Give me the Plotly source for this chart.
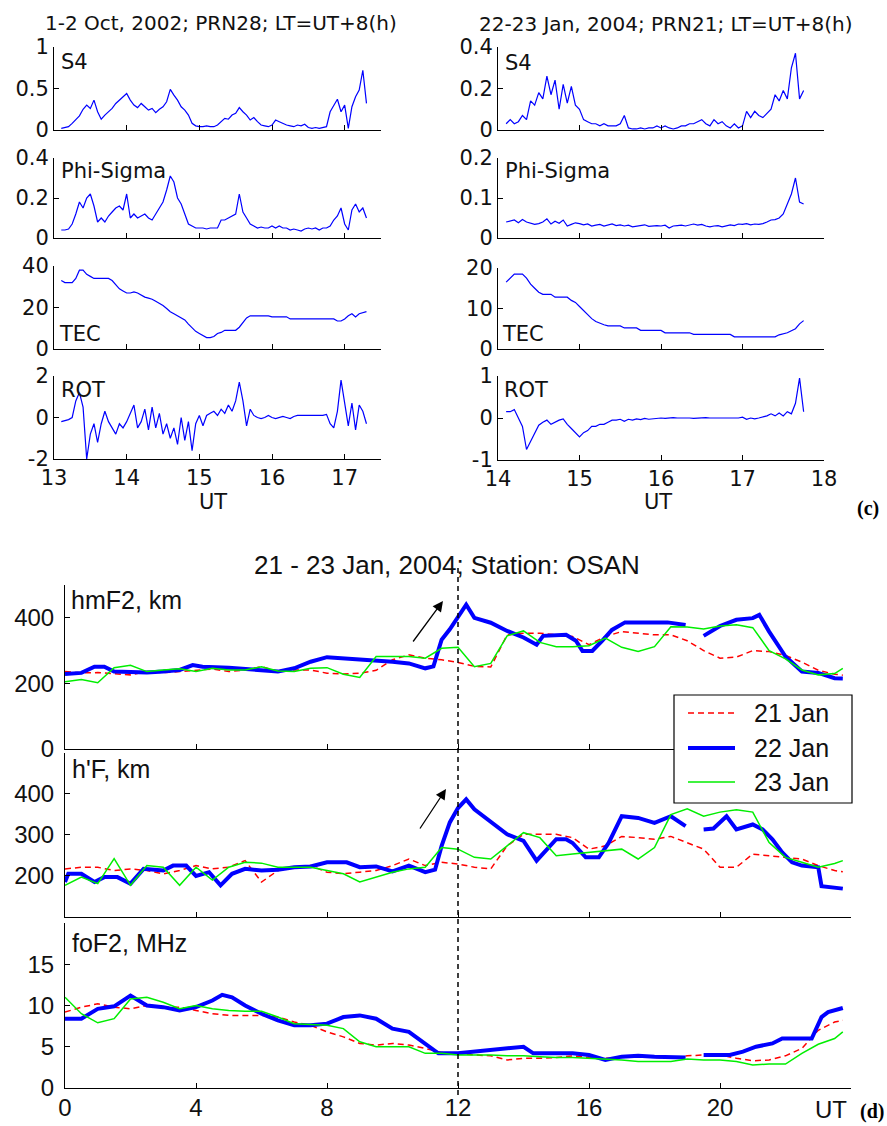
import plotly.graph_objects as go

W, H = 887, 1126

# ---------------- (c) left: 1-2 Oct 2002, PRN28 (UT hours, 0.05 h sampling) ----------------
UT_L_START = 13.10
S4_L = [
    0.02, 0.03, 0.04, 0.08, 0.12, 0.17, 0.25, 0.30, 0.26, 0.36, 0.22, 0.13, 0.18, 0.22, 0.26, 0.32, 0.36, 0.40,
    0.44, 0.36, 0.30, 0.27, 0.32, 0.28, 0.24, 0.26, 0.21, 0.25, 0.28, 0.34, 0.49, 0.42, 0.36, 0.28, 0.24, 0.18, 0.08, 0.05,
    0.04, 0.04, 0.05, 0.04, 0.04, 0.06, 0.10, 0.14, 0.13, 0.18, 0.20, 0.27, 0.22, 0.18, 0.12, 0.15, 0.10, 0.06, 0.05, 0.04,
    0.06, 0.12, 0.10, 0.08, 0.06, 0.05, 0.04, 0.06, 0.05, 0.07, 0.03, 0.02, 0.03, 0.02, 0.03, 0.04, 0.22, 0.30, 0.37, 0.22,
    0.30, 0.02, 0.28, 0.40, 0.48, 0.72, 0.32]
PHI_L = [
    0.04, 0.04, 0.045, 0.07, 0.12, 0.18, 0.15, 0.20, 0.22, 0.16, 0.08, 0.10, 0.08, 0.11, 0.13, 0.15, 0.16, 0.14,
    0.22, 0.10, 0.12, 0.10, 0.11, 0.12, 0.10, 0.09, 0.12, 0.15, 0.18, 0.24, 0.31, 0.28, 0.20, 0.17, 0.12, 0.07, 0.06, 0.05,
    0.05, 0.05, 0.045, 0.05, 0.05, 0.05, 0.09, 0.09, 0.10, 0.11, 0.12, 0.22, 0.13, 0.10, 0.07, 0.06, 0.05, 0.055, 0.05, 0.05,
    0.06, 0.05, 0.06, 0.05, 0.05, 0.04, 0.045, 0.04, 0.035, 0.045, 0.05, 0.045, 0.05, 0.04, 0.05, 0.05, 0.06, 0.09, 0.11, 0.15,
    0.07, 0.04, 0.14, 0.17, 0.13, 0.15, 0.10]
TEC_L = [
    33, 32, 32, 32, 34, 38, 38, 36, 35, 34, 34, 34, 34, 34, 33, 31, 29, 28,
    27, 27, 27.5, 27, 26, 25, 24.5, 24, 23, 22, 21, 19.5, 18, 17, 16, 15, 14, 12, 10, 8.5,
    7.5, 6.5, 5.5, 5.5, 6, 7.5, 8, 9, 9, 9, 9, 10.5, 13, 15, 16, 16, 16, 16, 16, 16,
    15.5, 15.5, 15.5, 15.5, 15.5, 14.5, 14.5, 14.5, 14.5, 14.5, 14.5, 14.5, 14.5, 14.5, 14.5, 14.5, 14.5, 14.5, 13.5, 13.5,
    14.5, 16, 17, 15.5, 17, 17.5, 18]
ROT_L = [
    -0.2, -0.15, -0.1, 0.0, 0.8, 1.2, 0.5, -2.0, -0.8, -0.3, -1.2, -0.3, 0.3, -0.2, -0.5, -0.8, -0.3, -0.5,
    -0.2, 0.2, 0.6, -0.5, -0.2, 0.4, -0.6, 0.5, -0.5, 0.2, -0.8, -0.3, -1.0, -0.5, -1.3, 0.0, -1.1, -0.2, -1.6, -0.3,
    0.1, -0.4, 0.1, 0.2, 0.3, 0.1, 0.4, 0.2, 0.6, 0.3, 0.8, 1.7, 0.8, -0.4, 0.4, 0.1, 0.0, -0.05, 0.0, 0.1,
    0.0, -0.05, 0.0, 0.05, 0.0, -0.05, 0.05, 0.1, 0.1, 0.1, 0.1, 0.1, 0.1, 0.1, 0.1, 0.15, -0.3, -0.5, 0.3, 1.8,
    0.8, -0.4, 0.7, -0.6, 0.6, 0.3, -0.3]

# ---------------- (c) right: 22-23 Jan 2004, PRN21 ----------------
UT_R_START = 14.10
S4_R = [
    0.03, 0.05, 0.03, 0.04, 0.07, 0.05, 0.14, 0.12, 0.18, 0.15, 0.26, 0.17, 0.24, 0.10, 0.22, 0.13, 0.21, 0.12,
    0.10, 0.05, 0.04, 0.03, 0.03, 0.02, 0.03, 0.02, 0.02, 0.02, 0.03, 0.07, 0.01, 0.005, 0.005, 0.01, 0.005, 0.01, 0.01, 0.02,
    0.01, 0.02, 0.01, 0.005, 0.01, 0.02, 0.02, 0.03, 0.03, 0.04, 0.05, 0.03, 0.02, 0.05, 0.03, 0.04, 0.02, 0.01, 0.03, 0.01,
    0.02, 0.09, 0.06, 0.09, 0.07, 0.06, 0.08, 0.10, 0.17, 0.14, 0.19, 0.15, 0.30, 0.37, 0.15, 0.19]
PHI_R = [
    0.040, 0.042, 0.045, 0.038, 0.046, 0.040, 0.037, 0.034, 0.036, 0.040, 0.048, 0.035, 0.042, 0.037, 0.045, 0.030, 0.034, 0.038,
    0.036, 0.033, 0.035, 0.030, 0.032, 0.034, 0.030, 0.033, 0.035, 0.031, 0.033, 0.030, 0.032, 0.028, 0.030, 0.031, 0.033, 0.029, 0.030, 0.031,
    0.030, 0.032, 0.025, 0.030, 0.031, 0.032, 0.030, 0.033, 0.035, 0.032, 0.034, 0.030, 0.028, 0.030, 0.031, 0.028, 0.030, 0.033, 0.031, 0.035,
    0.034, 0.036, 0.033, 0.035, 0.034, 0.036, 0.040, 0.045, 0.046, 0.050, 0.060, 0.085, 0.110, 0.150, 0.090, 0.085]
TEC_R = [
    16.5, 17.5, 18.5, 18.5, 18.5, 17.5, 16, 15, 14, 13.5, 13.5, 13.5, 12.8, 12.8, 12.8, 12.8, 12, 11.5,
    10.5, 9.5, 8.5, 7.5, 6.8, 6.3, 6.0, 5.7, 5.7, 5.7, 5.7, 5.2, 5.2, 5.2, 5.2, 4.6, 4.6, 4.6, 4.6, 4.6,
    4.6, 4.0, 4.0, 4.0, 4.0, 4.0, 4.0, 4.0, 3.6, 3.6, 3.6, 3.6, 3.6, 3.6, 3.6, 3.6, 3.6, 3.6, 3.0, 3.0,
    3.0, 3.0, 3.0, 3.0, 3.0, 3.0, 3.0, 3.0, 3.0, 3.5, 3.8, 4.0, 4.5, 5.0, 6.2, 7.0]
ROT_R = [
    0.15, 0.15, 0.2, 0.0, -0.2, -0.75, -0.55, -0.35, -0.17, -0.1, -0.05, -0.15, -0.1, -0.05, -0.02, -0.15, -0.25, -0.35,
    -0.45, -0.35, -0.3, -0.2, -0.2, -0.15, -0.15, -0.1, -0.05, -0.05, -0.03, -0.08, -0.03, -0.05, -0.02, -0.04, -0.01, -0.03, -0.02, -0.01,
    0, -0.01, 0, 0.01, 0, 0, 0.01, 0, -0.01, 0, 0, 0.01, 0, 0, 0, 0, 0, -0.01, 0, 0,
    0.02, -0.03, 0, -0.02, 0, 0.03, 0.05, 0.1, 0.05, 0.12, 0.05, 0.15, 0.1, 0.35, 0.95, 0.15]

# ---------------- (d) OSAN ionosonde, 21-23 Jan 2004 ----------------
HOURS = [i * 0.5 for i in range(48)] + [23.75]
HMF2_21 = [236, 232, 233, 229, 226, 236, 233, 236, 240, 244, 236, 241, 251, 236, 241, 241, 231, 229, 231, 240, 272, 287, 277, 272,
           264, 252, 250, 348, 353, 353, 348, 343, 318, 343, 358, 353, 348, 348, 330, 300, 277, 280, 300, 297, 285, 265, 240, 228, 225]
HMF2_23 = [205, 212, 202, 248, 255, 236, 241, 245, 236, 246, 241, 241, 251, 238, 236, 246, 248, 228, 218, 282, 282, 282, 277, 307,
           310, 251, 261, 345, 360, 325, 312, 312, 315, 338, 310, 297, 312, 373, 372, 366, 375, 379, 370, 300, 275, 241, 226, 230, 246]
HF_21 = [217, 221, 221, 213, 217, 213, 205, 213, 225, 217, 221, 237, 185, 213, 221, 225, 209, 205, 209, 213, 225, 241, 225, 233,
         229, 221, 217, 273, 301, 301, 301, 293, 265, 273, 296, 293, 289, 296, 281, 265, 221, 221, 253, 249, 245, 241, 225, 213, 210]
HF_23 = [177, 197, 181, 242, 177, 225, 221, 177, 221, 190, 221, 233, 231, 221, 221, 221, 213, 205, 185, 197, 209, 217, 221, 269,
         265, 245, 241, 273, 305, 293, 249, 253, 257, 261, 265, 241, 269, 349, 363, 345, 355, 361, 355, 281, 245, 233, 221, 230, 237]
FOF2_21 = [9.2, 9.8, 10.2, 9.8, 9.6, 10.0, 9.8, 9.8, 9.4, 9.0, 8.8, 8.8, 8.8, 8.6, 8.0, 7.6, 6.8, 6.2, 5.4, 5.2, 5.4, 5.2, 4.8, 4.3,
           4.2, 4.0, 3.9, 3.4, 3.6, 3.6, 3.7, 3.9, 3.7, 3.6, 3.7, 3.9, 3.7, 3.6, 3.9, 4.0, 4.0, 3.6, 3.3, 3.4, 3.9, 4.8, 7.0, 8.0, 8.2]
FOF2_23 = [11.0, 9.0, 7.9, 8.4, 10.8, 11.0, 10.4, 9.6, 10.0, 9.6, 9.4, 9.3, 9.3, 8.6, 7.8, 7.7, 7.6, 7.2, 5.6, 5.0, 5.0, 5.0, 4.2, 4.2,
           4.0, 4.0, 4.0, 3.9, 3.9, 3.8, 3.7, 3.7, 3.6, 3.5, 3.4, 3.2, 3.2, 3.2, 3.5, 3.4, 3.4, 3.2, 2.8, 2.9, 2.9, 4.2, 5.3, 6.0, 6.8]

HMF2_22_T = [0, 0.5, 0.9, 1.2, 1.5, 2.5, 3, 3.5, 3.9, 4.2, 5, 5.5, 6, 6.5, 7, 7.5, 8, 8.5, 9, 9.5, 10, 10.5, 11, 11.25, 11.5,
             11.75, 12, 12.25, 12.5, 13, 13.5, 14, 14.4, 14.6, 15.3, 15.6, 15.8, 16.1, 16.4, 16.7, 17.1, 18.4, 18.95, 19.2, 19.5,
             20, 20.5, 21, 21.2, 21.5, 22, 22.5, 23, 23.5, 23.75]
HMF2_22 = [229, 232, 251, 251, 236, 233, 236, 241, 256, 251, 248, 243, 241, 236, 246, 266, 280, 277, 274, 270, 266, 261, 246, 252, 333,
           365, 400, 440, 400, 385, 360, 340, 318, 345, 348, 330, 299, 299, 330, 363, 386, 386, 378, None, 345,
           375, 394, 399, 409, 358, 282, 236, 232, 216, 215]
HF_22_T = [0, 0.1, 0.5, 0.9, 1.2, 1.6, 2.0, 2.4, 3.0, 3.3, 3.7, 4.0, 4.4, 4.75, 5.1, 5.5, 6, 6.5, 7, 7.5, 8, 8.6, 9, 9.5, 10,
           10.5, 11, 11.3, 11.5, 11.75, 12, 12.25, 12.5, 13, 13.5, 14, 14.4, 15, 15.3, 15.5, 15.9, 16.3, 16.6, 17, 17.5, 18,
           18.5, 18.95, 19.2, 19.5, 19.8, 20.2, 20.5, 21, 21.3, 21.6, 21.9, 22.2, 22.5, 23.0, 23.1, 23.75]
HF_22 = [185, 205, 205, 185, 197, 197, 181, 217, 213, 225, 225, 200, 209, 177, 205, 217, 213, 215, 221, 223, 233, 233, 221, 223, 211,
         225, 209, 215, 273, 330, 365, 386, 362, 333, 301, 285, 237, 289, 289, 280, 245, 245, 280, 345, 341, 329,
         345, 321, None, 313, 315, 345, 313, 325, 313, 289, 257, 233, 225, 221, 175, 169]
FOF2_22_T = [0, 0.5, 1, 1.5, 2, 2.5, 3, 3.5, 4, 4.5, 4.8, 5.1, 5.5, 6, 6.5, 7, 7.5, 8, 8.5, 9, 9.5, 10, 10.5, 11, 11.4,
             12, 12.5, 13, 13.5, 14, 14.3, 15, 15.5, 16, 16.5, 17, 17.5, 18, 18.5, 18.95, 19.2, 19.5, 20.3, 20.7, 21.1,
             21.6, 21.9, 22.8, 23.1, 23.3, 23.75]
FOF2_22 = [8.4, 8.4, 9.6, 9.9, 11.2, 10.0, 9.8, 9.4, 9.8, 10.6, 11.3, 11.0, 10.0, 9.0, 8.2, 7.6, 7.6, 7.8, 8.6, 8.8, 8.4, 7.2, 6.8, 5.4, 4.2,
           4.2, 4.4, 4.6, 4.8, 5.0, 4.2, 4.2, 4.2, 4.0, 3.4, 3.8, 3.9, 3.8, 3.7, 3.7, None, 4.0, 4.0, 4.4, 5.0,
           5.4, 6.0, 6.0, 8.6, 9.2, 9.7]

DAY_NAMES = ["21 Jan", "22 Jan", "23 Jan"]


def grid(start, n, step=0.05):
    return [round(start + i * step, 3) for i in range(n)]


FONT_C = "DejaVu Sans"
FONT_D = "Liberation Sans"
BLUE, RED, GREEN = "#0000ff", "#ff0000", "#00ee00"
DAY_STYLE = [dict(color=RED, width=1.5, dash="6px,4px"),
             dict(color=BLUE, width=4),
             dict(color=GREEN, width=1.5)]


def xd(p0, p1):
    return [p0 / W, p1 / W]


def yd(top, bot):
    return [1 - bot / H, 1 - top / H]


fig = go.Figure()
layout = dict(template="none", width=W, height=H,
              margin=dict(l=0, r=0, t=0, b=0, pad=0, autoexpand=False), autosize=False,
              paper_bgcolor="white", plot_bgcolor="white", showlegend=False)


def axis_style(**kw):
    d = dict(showline=True, linecolor="black", linewidth=1, ticks="inside", ticklen=5,
             tickcolor="black", tickwidth=1, showgrid=False, zeroline=False, fixedrange=True,
             automargin=False)
    d.update(kw)
    return d


top_rows = [(47, 130), (158, 238), (266, 349), (376, 459)]
top_rows_r = [(47, 130), (158, 238), (268, 349), (376, 460)]
tick_font_c = dict(family=FONT_C, size=21, color="#111")

left_sets = [
    (S4_L, [0, 1], [0, 0.5, 1], ["0", "0.5", "1"], "S4"),
    (PHI_L, [0, 0.4], [0, 0.2, 0.4], ["0", "0.2", "0.4"], "Phi-Sigma"),
    (TEC_L, [0, 40], [0, 20, 40], ["0", "20", "40"], "TEC"),
    (ROT_L, [-2, 2], [-2, 0, 2], ["-2", "0", "2"], "ROT"),
]
right_sets = [
    (S4_R, [0, 0.4], [0, 0.2, 0.4], ["0", "0.2", "0.4"], "S4"),
    (PHI_R, [0, 0.2], [0, 0.1, 0.2], ["0", "0.1", "0.2"], "Phi-Sigma"),
    (TEC_R, [0, 20], [0, 10, 20], ["0", "10", "20"], "TEC"),
    (ROT_R, [-1, 1], [-1, 0, 1], ["-1", "0", "1"], "ROT"),
]

annotations = []
shapes = []
ax_id = 0
for side, sets, rows, start, xdom, xr, xt in [
        ("L", left_sets, top_rows, UT_L_START, xd(54, 381), [13, 17.5], [13, 14, 15, 16, 17]),
        ("R", right_sets, top_rows_r, UT_R_START, xd(498, 824), [14, 18], [14, 15, 16, 17, 18])]:
    for i, (vals, yr, yt, ytt, lab) in enumerate(sets):
        ax_id += 1
        sfx = "" if ax_id == 1 else str(ax_id)
        last = (i == 3)
        layout["xaxis" + sfx] = axis_style(domain=xdom, range=xr, tickvals=xt,
                                           ticktext=[str(v) for v in xt], showticklabels=last,
                                           anchor="y" + sfx, tickfont=tick_font_c, ticklabelstandoff=0)
        layout["yaxis" + sfx] = axis_style(domain=yd(*rows[i]), range=yr, tickvals=yt, ticktext=ytt,
                                           anchor="x" + sfx, tickfont=tick_font_c)
        fig.add_trace(go.Scatter(x=grid(start, len(vals)), y=vals, mode="lines",
                                 line=dict(color=BLUE, width=1.2), xaxis="x" + sfx, yaxis="y" + sfx,
                                 showlegend=False, hoverinfo="skip"))

# panel labels for (c)
lab_pos = {"L": [(59, 62), (59, 171), (57, 334), (59, 390)],
           "R": [(503, 63), (503, 171), (500, 334), (502, 390)]}
for side, sets in [("L", left_sets), ("R", right_sets)]:
    for (vals, yr, yt, ytt, lab), (px, py) in zip(sets, lab_pos[side]):
        annotations.append(dict(text=lab, x=px / W, y=1 - py / H, xref="paper", yref="paper",
                                xanchor="left", yanchor="middle", showarrow=False,
                                font=dict(family=FONT_C, size=21, color="#111")))

for txt, px, py in [("1-2 Oct, 2002; PRN28; LT=UT+8(h)", 221, 23),
                    ("22-23 Jan, 2004; PRN21; LT=UT+8(h)", 665, 24)]:
    annotations.append(dict(text=txt, x=px / W, y=1 - py / H, xref="paper", yref="paper",
                            xanchor="center", yanchor="middle", showarrow=False,
                            font=dict(family=FONT_C, size=20, color="#111")))
for px in (213, 658):
    annotations.append(dict(text="UT", x=px / W, y=1 - 502 / H, xref="paper", yref="paper",
                            xanchor="center", yanchor="middle", showarrow=False,
                            font=dict(family=FONT_C, size=21, color="#111")))

# ---------------- bottom (d) ----------------
tick_font_d = dict(family=FONT_D, size=24, color="#111")
bot_rows = [(585, 749), (752.5, 917), (923, 1088)]
bot_sets = [
    ([0, 500], [0, 200, 400], "hmF2, km", (HMF2_21, (HMF2_22_T, HMF2_22), HMF2_23)),
    ([100, 500], [200, 300, 400], "h'F, km", (HF_21, (HF_22_T, HF_22), HF_23)),
    ([0, 20], [0, 5, 10, 15], "foF2, MHz", (FOF2_21, (FOF2_22_T, FOF2_22), FOF2_23)),
]
xticks_d = [0, 4, 8, 12, 16, 20]
for i, (yr, yt, lab, (d21, (t22, d22), d23)) in enumerate(bot_sets):
    ax_id += 1
    sfx = str(ax_id)
    last = (i == 2)
    layout["xaxis" + sfx] = axis_style(domain=xd(65, 851), range=[0, 24], tickvals=xticks_d,
                                       ticktext=[str(v) for v in xticks_d], showticklabels=last,
                                       anchor="y" + sfx, tickfont=tick_font_d, ticklabelstandoff=-2)
    layout["yaxis" + sfx] = axis_style(domain=yd(*bot_rows[i]), range=yr, tickvals=yt,
                                       ticktext=[str(v) for v in yt], anchor="x" + sfx,
                                       tickfont=tick_font_d, ticklabelstandoff=5)
    for name, xs, ys, st in [(DAY_NAMES[0], HOURS, d21, DAY_STYLE[0]),
                             (DAY_NAMES[1], t22, d22, DAY_STYLE[1]),
                             (DAY_NAMES[2], HOURS, d23, DAY_STYLE[2])]:
        fig.add_trace(go.Scatter(x=xs, y=ys, mode="lines", name=name, line=st, connectgaps=False,
                                 showlegend=False, xaxis="x" + sfx, yaxis="y" + sfx, hoverinfo="skip"))

for lab, px, py in [("hmF2, km", 69, 600), ("h'F, km", 70, 769), ("foF2, MHz", 70, 943)]:
    annotations.append(dict(text=lab, x=px / W, y=1 - py / H, xref="paper", yref="paper",
                            xanchor="left", yanchor="middle", showarrow=False,
                            font=dict(family=FONT_D, size=25, color="#111")))

annotations.append(dict(text="21 - 23 Jan, 2004; Station: OSAN", x=447 / W, y=1 - 565 / H,
                        xref="paper", yref="paper", xanchor="center", yanchor="middle",
                        showarrow=False, font=dict(family=FONT_D, size=26, color="#111")))
annotations.append(dict(text="UT", x=23.4, y=1 - 1109 / H, xref="x11", yref="paper",
                        xanchor="center", yanchor="middle", showarrow=False,
                        font=dict(family=FONT_D, size=24, color="#111")))

# arrows pointing to the post-sunset rise
for (hx, hy, tx, ty) in [(443, 601, 412, 643), (446, 789, 419, 830)]:
    annotations.append(dict(text="", x=hx / W, y=1 - hy / H, xref="paper", yref="paper",
                            ax=tx - hx, ay=ty - hy, showarrow=True, arrowhead=2, arrowsize=1.6,
                            arrowwidth=1.3, arrowcolor="black", standoff=0))

for txt, px, py in [("(c)", 868, 508), ("(d)", 872, 1111)]:
    annotations.append(dict(text="<b>" + txt + "</b>", x=px / W, y=1 - py / H, xref="paper",
                            yref="paper", xanchor="center", yanchor="middle", showarrow=False,
                            font=dict(family="Liberation Serif", size=20, color="black")))

# legend box (drawn as a key: box, line samples and labels)
shapes.append(dict(type="rect", xref="paper", yref="paper", x0=674 / W, x1=852 / W,
                   y0=1 - 803 / H, y1=1 - 695 / H, line=dict(color="black", width=1.2),
                   fillcolor="white", layer="above"))
for name, st, py in zip(DAY_NAMES, DAY_STYLE, (713, 748, 782)):
    shapes.append(dict(type="line", xref="paper", yref="paper", x0=688 / W, x1=735 / W,
                       y0=1 - py / H, y1=1 - py / H, line=st, layer="above"))
    annotations.append(dict(text=name, x=752 / W, y=1 - py / H, xref="paper", yref="paper",
                            xanchor="left", yanchor="middle", showarrow=False,
                            font=dict(family=FONT_D, size=25, color="#111")))

shapes.append(dict(type="line", xref="x11", yref="paper", x0=12, x1=12,
                   y0=1 - 1095 / H, y1=1 - 567 / H,
                   line=dict(color="black", width=1.5, dash="5px,4px")))

layout["annotations"] = annotations
layout["shapes"] = shapes

fig.update_layout(**layout)
fig.write_html("out.html", config={"displayModeBar": False, "staticPlot": True},
               post_script="document.body.style.margin='0px';document.body.style.padding='0px';"
                           "document.documentElement.style.overflow='hidden';")
